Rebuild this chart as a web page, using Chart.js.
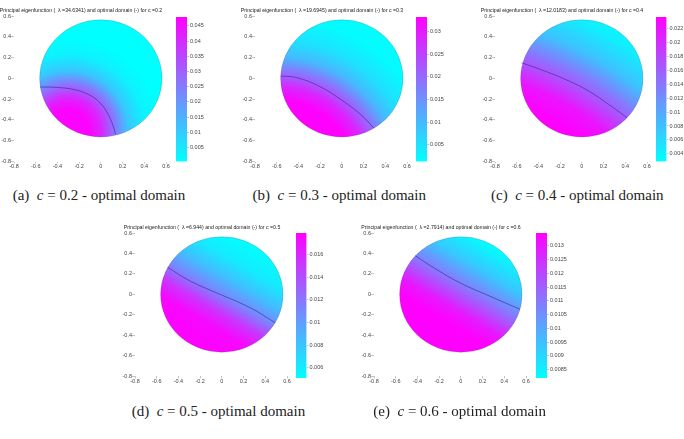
<!DOCTYPE html>
<html>
<head>
<meta charset="utf-8">
<script src="https://cdn.jsdelivr.net/npm/chart.js@4.4.1/dist/chart.umd.min.js"></script>
<style>
	body { margin: 0; background: #fff; width: 684px; height: 439px; position: relative; overflow: hidden; }
	canvas { position: absolute; }
	.cap { position: absolute; font-family: 'Liberation Serif', serif; font-size: 15px; color: #222; white-space: nowrap; line-height: 1; }
</style>
</head>
<body>
<script>
'use strict';

// values
const letters = ['a', 'b', 'c', 'd', 'e'];
const cValues = ['0.2', '0.3', '0.4', '0.5', '0.6'];
const lambdaValues = ['34.6341', '19.6945', '12.0183', '6.944', '2.7914'];
const diskRadius = 0.564;
const axisTicks = [-0.8, -0.6, -0.4, -0.2, 0, 0.2, 0.4, 0.6];

const colorMin = [0.0004, 0.0013, 0.0029, 0.0051, 0.0082];
const colorMax = [0.0479, 0.0332, 0.0237, 0.0179, 0.01346];
const colorTicksA = [0.005, 0.01, 0.015, 0.02, 0.025, 0.03, 0.035, 0.04, 0.045];
const colorTicksB = [0.005, 0.01, 0.015, 0.02, 0.025, 0.03];
const colorTicksC = [0.004, 0.006, 0.008, 0.01, 0.012, 0.014, 0.016, 0.018, 0.02, 0.022];
const colorTicksD = [0.006, 0.008, 0.01, 0.012, 0.014, 0.016];
const colorTicksE = [0.0085, 0.009, 0.0095, 0.01, 0.0105, 0.011, 0.0115, 0.012, 0.0125, 0.013];

// optimal domain boundary (-)
const contourXA = [-0.561, -0.407, -0.255, -0.117, -0.009, 0.067, 0.113, 0.135];
const contourYA = [-0.083, -0.087, -0.106, -0.154, -0.234, -0.346, -0.458, -0.538];
const contourXB = [-0.563, -0.414, -0.2, -0.016, 0.168, 0.295];
const contourYB = [0.022, 0.007, -0.08, -0.199, -0.343, -0.478];
const contourXC = [-0.556, -0.366, -0.152, 0.063, 0.246, 0.416];
const contourYC = [0.15, 0.08, -0.01, -0.122, -0.25, -0.378];
const contourXD = [-0.5, -0.29, -0.014, 0.262, 0.492];
const contourYD = [0.265, 0.13, 0, -0.13, -0.276];
const contourXE = [-0.42, -0.224, -0.009, 0.267, 0.545];
const contourYE = [0.378, 0.244, 0.114, -0.017, -0.145];

// eigenfunction shading: [distance, colour level 0..1]
const fieldKind = ['radial', 'radial', 'radial', 'linear', 'linear'];
const fieldFrom = [[-0.3, -0.5], [-0.6, -1.0], [-1.52, -2.8], [-0.27, -0.49], [-0.146, -0.262]];
const fieldDir = [null, null, null, [0.486, 0.874], [0.487, 0.873]];
const fieldStopsA = [[0, 1], [0.2, 0.98], [0.3, 0.85], [0.41, 0.58], [0.55, 0.22], [0.7, 0.05], [0.85, 0]];
const fieldStopsB = [[0, 1], [0.75, 1], [0.88, 0.85], [1.015, 0.56], [1.15, 0.28], [1.3, 0.12], [1.5, 0.02], [1.7, 0]];
const fieldStopsC = [[0, 1], [2.6, 1], [2.8, 0.92], [3.1, 0.52], [3.3, 0.24], [3.55, 0.06], [3.75, 0]];
const fieldStopsD = [[0, 1], [0.25, 0.97], [0.4, 0.8], [0.56, 0.47], [0.72, 0.25], [0.9, 0.08], [1.12, 0]];
const fieldStopsE = [[0, 1], [0.15, 0.9], [0.4, 0.5], [0.6, 0.22], [0.86, 0]];

// page layout (pixels): plot area and colour bar of each panel
const plotArea = [[14, 15.5, 166, 161], [254.8, 15.5, 406.8, 161], [494.6, 15.5, 646.6, 161],
	[134.6, 233.3, 286.6, 376.7], [374.1, 233.3, 526.1, 376.7]];
const barArea = [[175.7, 17.3, 186.7, 161.7], [415.7, 17.3, 426.7, 161.7], [656, 17.3, 666.5, 161.7],
	[295.7, 233.3, 306.2, 378.3], [535.7, 233.3, 546.7, 378.3]];
const captionPos = [[12.7, 195.7], [252.5, 195.7], [491, 195.7], [131.7, 411.7], [373.3, 411.7]];

const colorTicks = [colorTicksA, colorTicksB, colorTicksC, colorTicksD, colorTicksE];
const contourX = [contourXA, contourXB, contourXC, contourXD, contourXE];
const contourY = [contourYA, contourYB, contourYC, contourYD, contourYE];
const fieldStops = [fieldStopsA, fieldStopsB, fieldStopsC, fieldStopsD, fieldStopsE];

const tickFont = { family: 'Liberation Sans', size: 5.5 };
const tickColor = '#444';

function cool(t) {
	return 'rgb(' + Math.round(255 * t) + ',' + Math.round(255 * (1 - t)) + ',255)';
}

function addCanvas(left, top, width, height) {
	let canvas = document.createElement('canvas');
	canvas.width = width;
	canvas.height = height;
	canvas.style.left = left + 'px';
	canvas.style.top = top + 'px';
	canvas.style.width = width + 'px';
	canvas.style.height = height + 'px';
	document.body.appendChild(canvas);
	return canvas;
}

const diskPlugin = {
	id: 'disk',
	beforeDatasetsDraw(chart, args, opts) {
		const ctx = chart.ctx;
		const x = chart.scales.x, y = chart.scales.y;
		const cx = x.getPixelForValue(0), cy = y.getPixelForValue(0);
		const rx = x.getPixelForValue(diskRadius) - cx;
		const ry = cy - y.getPixelForValue(diskRadius);
		const unit = x.getPixelForValue(1) - cx;
		const stops = opts.stops;
		const far = stops[stops.length - 1][0];
		const px = x.getPixelForValue(opts.from[0]), py = y.getPixelForValue(opts.from[1]);
		let grad;
		if (opts.kind === 'radial') {
			grad = ctx.createRadialGradient(px, py, 0, px, py, far * unit);
		} else {
			grad = ctx.createLinearGradient(px, py,
				x.getPixelForValue(opts.from[0] + opts.dir[0] * far),
				y.getPixelForValue(opts.from[1] + opts.dir[1] * far));
		}
		for (const s of stops) {
			grad.addColorStop(s[0] / far, cool(s[1]));
		}
		ctx.save();
		ctx.beginPath();
		ctx.ellipse(cx, cy, rx, ry, 0, 0, 2 * Math.PI);
		ctx.fillStyle = grad;
		ctx.fill();
		ctx.lineWidth = 0.6;
		ctx.strokeStyle = 'rgba(70,70,110,0.35)';
		ctx.stroke();
		ctx.restore();
	}
};

const titlePlugin = {
	id: 'plotTitle',
	afterDraw(chart, args, opts) {
		const ctx = chart.ctx;
		const ca = chart.chartArea;
		ctx.save();
		ctx.font = '5.2px "Liberation Sans"';
		ctx.fillStyle = '#222';
		ctx.textAlign = 'center';
		ctx.textBaseline = 'middle';
		ctx.fillText(opts.text, (ca.left + ca.right) / 2 - 9, ca.top - 5);
		ctx.restore();
	}
};

function makePlot(i) {
	const [L, T, R, B] = plotArea[i];
	const axisW = 14, padTop = 16;
	const left = L - axisW, top = T - padTop;
	const width = Math.ceil(R - left + 9);
	const height = Math.ceil(B - top + 11);
	const axisH = height - (B - top);
	const canvas = addCanvas(left, top, width, height);

	let points = [];
	for (let k = 0; k < contourX[i].length; k++) {
		points.push({ x: contourX[i][k], y: contourY[i][k] });
	}

	new Chart(canvas, {
		type: 'scatter',
		data: {
			datasets: [{
				data: points,
				showLine: true,
				tension: 0.4,
				borderColor: 'rgba(45,45,120,0.75)',
				borderWidth: 0.8,
				pointRadius: 0
			}]
		},
		options: {
			responsive: false,
			animation: false,
			events: [],
			layout: { padding: { top: padTop, right: width - (R - left), left: 0, bottom: 0 } },
			plugins: {
				legend: { display: false },
				tooltip: { enabled: false },
				disk: { kind: fieldKind[i], from: fieldFrom[i], dir: fieldDir[i], stops: fieldStops[i] },
				plotTitle: { text: 'Principal eigenfunction (  \u03bb =' + lambdaValues[i] + ') and optimal domain (-) for c =' + cValues[i] }
			},
			scales: {
				x: {
					type: 'linear', min: -0.8, max: 0.6,
					afterBuildTicks: function (scale) { scale.ticks = axisTicks.map(v => ({ value: v })); },
					afterFit: function (scale) { scale.height = axisH; scale.paddingLeft = 0; scale.paddingRight = 0; },
					ticks: { font: tickFont, color: tickColor, padding: 0, maxRotation: 0, autoSkip: false,
						callback: v => String(Math.round(v * 10) / 10) },
					grid: { drawOnChartArea: false, tickLength: 2, color: '#888', lineWidth: 0.5 },
					border: { display: false }
				},
				y: {
					type: 'linear', min: -0.8, max: 0.6,
					afterBuildTicks: function (scale) { scale.ticks = axisTicks.map(v => ({ value: v })); },
					afterFit: function (scale) { scale.width = axisW; scale.paddingTop = 0; scale.paddingBottom = 0; },
					ticks: { font: tickFont, color: tickColor, padding: 0, autoSkip: false,
						callback: v => String(Math.round(v * 10) / 10) },
					grid: { drawOnChartArea: false, tickLength: 3, color: '#888', lineWidth: 0.5 },
					border: { display: false }
				}
			}
		},
		plugins: [diskPlugin, titlePlugin]
	});
}

function makeColorBar(i) {
	const [L, T, R, B] = barArea[i];
	const padV = 5, axisW = 28;
	const width = Math.ceil(R - L + axisW);
	const height = Math.ceil(B - T + 2 * padV);
	const canvas = addCanvas(L, T - padV, width, height);

	new Chart(canvas, {
		type: 'bar',
		data: {
			labels: [''],
			datasets: [{
				data: [[colorMin[i], colorMax[i]]],
				barPercentage: 1,
				categoryPercentage: 1,
				borderWidth: 0,
				backgroundColor: function (context) {
					const ca = context.chart.chartArea;
					if (!ca) {
						return null;
					}
					let g = context.chart.ctx.createLinearGradient(0, ca.bottom, 0, ca.top);
					g.addColorStop(0, cool(0));
					g.addColorStop(1, cool(1));
					return g;
				}
			}]
		},
		options: {
			responsive: false,
			animation: false,
			events: [],
			layout: { padding: { top: padV, bottom: height - (B - T) - padV, left: 0, right: 0 } },
			plugins: { legend: { display: false }, tooltip: { enabled: false } },
			scales: {
				x: { display: false },
				y: {
					position: 'right',
					min: colorMin[i], max: colorMax[i],
					afterBuildTicks: function (scale) { scale.ticks = colorTicks[i].map(v => ({ value: v })); },
					afterFit: function (scale) { scale.width = width - (R - L); scale.paddingTop = 0; scale.paddingBottom = 0; },
					ticks: { font: tickFont, color: tickColor, padding: 1, autoSkip: false, callback: v => String(v) },
					grid: { drawOnChartArea: false, tickLength: 2, color: '#888', lineWidth: 0.5 },
					border: { display: false }
				}
			}
		}
	});
}

function makeCaption(i) {
	let div = document.createElement('div');
	div.className = 'cap';
	div.innerHTML = '(' + letters[i] + ') &nbsp;<i>c</i> = ' + cValues[i] + ' - optimal domain';
	div.style.left = captionPos[i][0] + 'px';
	div.style.top = (captionPos[i][1] - 8) + 'px';
	document.body.appendChild(div);
}

for (let i = 0; i < 5; i++) {
	makePlot(i);
	makeColorBar(i);
	makeCaption(i);
}
</script>
</body>
</html>
